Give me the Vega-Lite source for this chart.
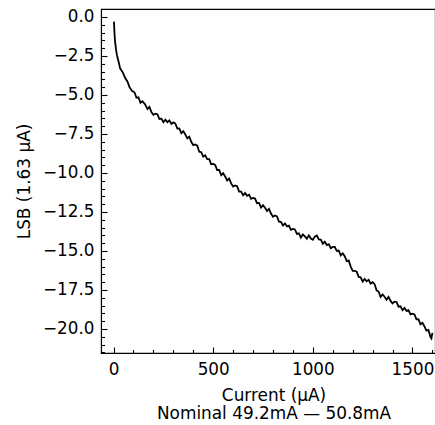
{
  "$schema": "https://vega.github.io/schema/vega-lite/v6.json",
  "width": 334,
  "height": 344,
  "autosize": {"type": "none"},
  "padding": {"left": 101, "top": 9, "right": 0, "bottom": 72},
  "background": "white",
  "config": {
    "view": {"stroke": "black", "strokeWidth": 1.1},
    "axis": {
      "labelFont": "DejaVu Sans", "titleFont": "DejaVu Sans",
      "labelFontSize": 16.8, "titleFontSize": 16.9,
      "labelColor": "black", "titleColor": "black", "titleFontWeight": "normal",
      "domainColor": "black", "domainWidth": 1.1, "tickColor": "black", "tickWidth": 1.1, "grid": false
    }
  },
  "data": {"values": [
    {"I": 2, "LSB": -0.30}, {"I": 4, "LSB": -0.85}, {"I": 6, "LSB": -1.30}, {"I": 8, "LSB": -1.62},
    {"I": 12, "LSB": -2.05}, {"I": 17, "LSB": -2.45}, {"I": 25, "LSB": -2.85}, {"I": 33, "LSB": -3.30},
    {"I": 45, "LSB": -3.52}, {"I": 58, "LSB": -3.90}, {"I": 70, "LSB": -4.15}, {"I": 80, "LSB": -4.50},
    {"I": 93, "LSB": -4.75}, {"I": 105, "LSB": -4.83}, {"I": 115, "LSB": -5.18}, {"I": 125, "LSB": -5.15},
    {"I": 135, "LSB": -5.50}, {"I": 145, "LSB": -5.40}, {"I": 158, "LSB": -5.60}, {"I": 170, "LSB": -5.90},
    {"I": 180, "LSB": -5.76}, {"I": 190, "LSB": -6.10}, {"I": 200, "LSB": -6.27}, {"I": 210, "LSB": -6.20},
    {"I": 220, "LSB": -6.23}, {"I": 230, "LSB": -6.54}, {"I": 240, "LSB": -6.52}, {"I": 250, "LSB": -6.75},
    {"I": 260, "LSB": -6.59}, {"I": 270, "LSB": -6.74}, {"I": 280, "LSB": -6.63}, {"I": 290, "LSB": -6.86},
    {"I": 300, "LSB": -6.76}, {"I": 310, "LSB": -6.83}, {"I": 320, "LSB": -7.16}, {"I": 330, "LSB": -7.15},
    {"I": 340, "LSB": -7.45}, {"I": 350, "LSB": -7.32}, {"I": 360, "LSB": -7.53}, {"I": 370, "LSB": -7.78},
    {"I": 380, "LSB": -7.68}, {"I": 390, "LSB": -8.00}, {"I": 400, "LSB": -8.22}, {"I": 410, "LSB": -8.17},
    {"I": 420, "LSB": -8.25}, {"I": 430, "LSB": -8.64}, {"I": 440, "LSB": -8.67}, {"I": 450, "LSB": -8.96},
    {"I": 460, "LSB": -8.87}, {"I": 470, "LSB": -9.11}, {"I": 480, "LSB": -9.11}, {"I": 490, "LSB": -9.44},
    {"I": 500, "LSB": -9.42}, {"I": 510, "LSB": -9.48}, {"I": 520, "LSB": -9.81}, {"I": 530, "LSB": -9.81},
    {"I": 540, "LSB": -10.14}, {"I": 550, "LSB": -10.02}, {"I": 560, "LSB": -10.23}, {"I": 570, "LSB": -10.48},
    {"I": 580, "LSB": -10.36}, {"I": 590, "LSB": -10.67}, {"I": 600, "LSB": -10.87}, {"I": 610, "LSB": -10.80},
    {"I": 620, "LSB": -10.85}, {"I": 630, "LSB": -11.19}, {"I": 640, "LSB": -11.19}, {"I": 650, "LSB": -11.43},
    {"I": 660, "LSB": -11.28}, {"I": 670, "LSB": -11.46}, {"I": 680, "LSB": -11.39}, {"I": 690, "LSB": -11.66},
    {"I": 700, "LSB": -11.60}, {"I": 710, "LSB": -11.64}, {"I": 720, "LSB": -11.94}, {"I": 730, "LSB": -11.92},
    {"I": 740, "LSB": -12.22}, {"I": 750, "LSB": -12.06}, {"I": 760, "LSB": -12.23}, {"I": 770, "LSB": -12.44},
    {"I": 780, "LSB": -12.30}, {"I": 790, "LSB": -12.60}, {"I": 800, "LSB": -12.80}, {"I": 810, "LSB": -12.72},
    {"I": 820, "LSB": -12.78}, {"I": 830, "LSB": -13.12}, {"I": 840, "LSB": -13.13}, {"I": 850, "LSB": -13.37},
    {"I": 860, "LSB": -13.23}, {"I": 870, "LSB": -13.42}, {"I": 880, "LSB": -13.37}, {"I": 890, "LSB": -13.65},
    {"I": 900, "LSB": -13.59}, {"I": 910, "LSB": -13.62}, {"I": 920, "LSB": -13.91}, {"I": 930, "LSB": -13.87},
    {"I": 940, "LSB": -14.14}, {"I": 950, "LSB": -13.94}, {"I": 960, "LSB": -14.06}, {"I": 970, "LSB": -14.21},
    {"I": 980, "LSB": -14.00}, {"I": 990, "LSB": -14.20}, {"I": 1000, "LSB": -14.28}, {"I": 1010, "LSB": -14.08},
    {"I": 1020, "LSB": -14.01}, {"I": 1030, "LSB": -14.26}, {"I": 1040, "LSB": -14.27}, {"I": 1050, "LSB": -14.53},
    {"I": 1060, "LSB": -14.41}, {"I": 1070, "LSB": -14.62}, {"I": 1080, "LSB": -14.56}, {"I": 1090, "LSB": -14.82},
    {"I": 1100, "LSB": -14.74}, {"I": 1110, "LSB": -14.74}, {"I": 1120, "LSB": -15.00}, {"I": 1130, "LSB": -14.97},
    {"I": 1140, "LSB": -15.28}, {"I": 1150, "LSB": -15.15}, {"I": 1160, "LSB": -15.34}, {"I": 1170, "LSB": -15.65},
    {"I": 1180, "LSB": -15.61}, {"I": 1190, "LSB": -16.00}, {"I": 1200, "LSB": -16.27}, {"I": 1210, "LSB": -16.27},
    {"I": 1220, "LSB": -16.33}, {"I": 1230, "LSB": -16.66}, {"I": 1240, "LSB": -16.69}, {"I": 1250, "LSB": -16.96},
    {"I": 1260, "LSB": -16.79}, {"I": 1270, "LSB": -16.94}, {"I": 1280, "LSB": -16.85}, {"I": 1290, "LSB": -17.09},
    {"I": 1300, "LSB": -17.00}, {"I": 1310, "LSB": -17.13}, {"I": 1320, "LSB": -17.53}, {"I": 1330, "LSB": -17.60},
    {"I": 1340, "LSB": -17.95}, {"I": 1350, "LSB": -17.78}, {"I": 1360, "LSB": -17.93}, {"I": 1370, "LSB": -18.12},
    {"I": 1380, "LSB": -17.95}, {"I": 1390, "LSB": -18.20}, {"I": 1400, "LSB": -18.36}, {"I": 1410, "LSB": -18.25},
    {"I": 1420, "LSB": -18.27}, {"I": 1430, "LSB": -18.57}, {"I": 1440, "LSB": -18.55}, {"I": 1450, "LSB": -18.79},
    {"I": 1460, "LSB": -18.65}, {"I": 1470, "LSB": -18.84}, {"I": 1480, "LSB": -18.79}, {"I": 1490, "LSB": -19.06},
    {"I": 1500, "LSB": -19.02}, {"I": 1510, "LSB": -19.07}, {"I": 1520, "LSB": -19.38}, {"I": 1530, "LSB": -19.37},
    {"I": 1540, "LSB": -19.70}, {"I": 1550, "LSB": -19.60}, {"I": 1560, "LSB": -19.83}, {"I": 1570, "LSB": -20.10},
    {"I": 1580, "LSB": -20.06}, {"I": 1590, "LSB": -20.50}, {"I": 1595, "LSB": -20.60}, {"I": 1600, "LSB": -20.25}
  ]},
  "mark": {"type": "line", "color": "black", "strokeWidth": 1.8, "clip": true},
  "encoding": {
    "x": {
      "field": "I", "type": "quantitative",
      "scale": {"domain": [-63, 1613], "nice": false, "zero": false},
      "axis": {
        "values": [0, 100, 200, 300, 400, 500, 600, 700, 800, 900, 1000, 1100, 1200, 1300, 1400, 1500, 1600],
        "format": "d",
        "labelExpr": "datum.value % 500 === 0 ? datum.label : ''",
        "tickSize": {"condition": {"test": "datum.value % 500 === 0", "value": -6}, "value": -3.5},
        "labelPadding": 14.5,
        "labelFlush": false,
        "labelOverlap": false,
        "title": ["Current (µA)", "Nominal 49.2mA — 50.8mA"],
        "titleX": 172.5, "titleY": 47, "titleBaseline": "alphabetic", "titleAlign": "center", "titleLineHeight": 18
      }
    },
    "y": {
      "field": "LSB", "type": "quantitative",
      "scale": {"domain": [-21.54, 0.51], "nice": false, "zero": false},
      "axis": {
        "values": [0, -0.5, -1, -1.5, -2, -2.5, -3, -3.5, -4, -4.5, -5, -5.5, -6, -6.5, -7, -7.5, -8, -8.5, -9, -9.5, -10, -10.5, -11, -11.5, -12, -12.5, -13, -13.5, -14, -14.5, -15, -15.5, -16, -16.5, -17, -17.5, -18, -18.5, -19, -19.5, -20, -20.5, -21, -21.5],
        "format": ".1f",
        "labelExpr": "abs(datum.value % 2.5) < 0.001 ? datum.label : ''",
        "tickSize": {"condition": {"test": "abs(datum.value % 2.5) < 0.001", "value": -6}, "value": -3.5},
        "labelPadding": 13,
        "labelFlush": false,
        "labelOverlap": false,
        "title": "LSB (1.63 µA)",
        "titleX": -72, "titleBaseline": "alphabetic", "titleAngle": -90
      }
    }
  }
}
